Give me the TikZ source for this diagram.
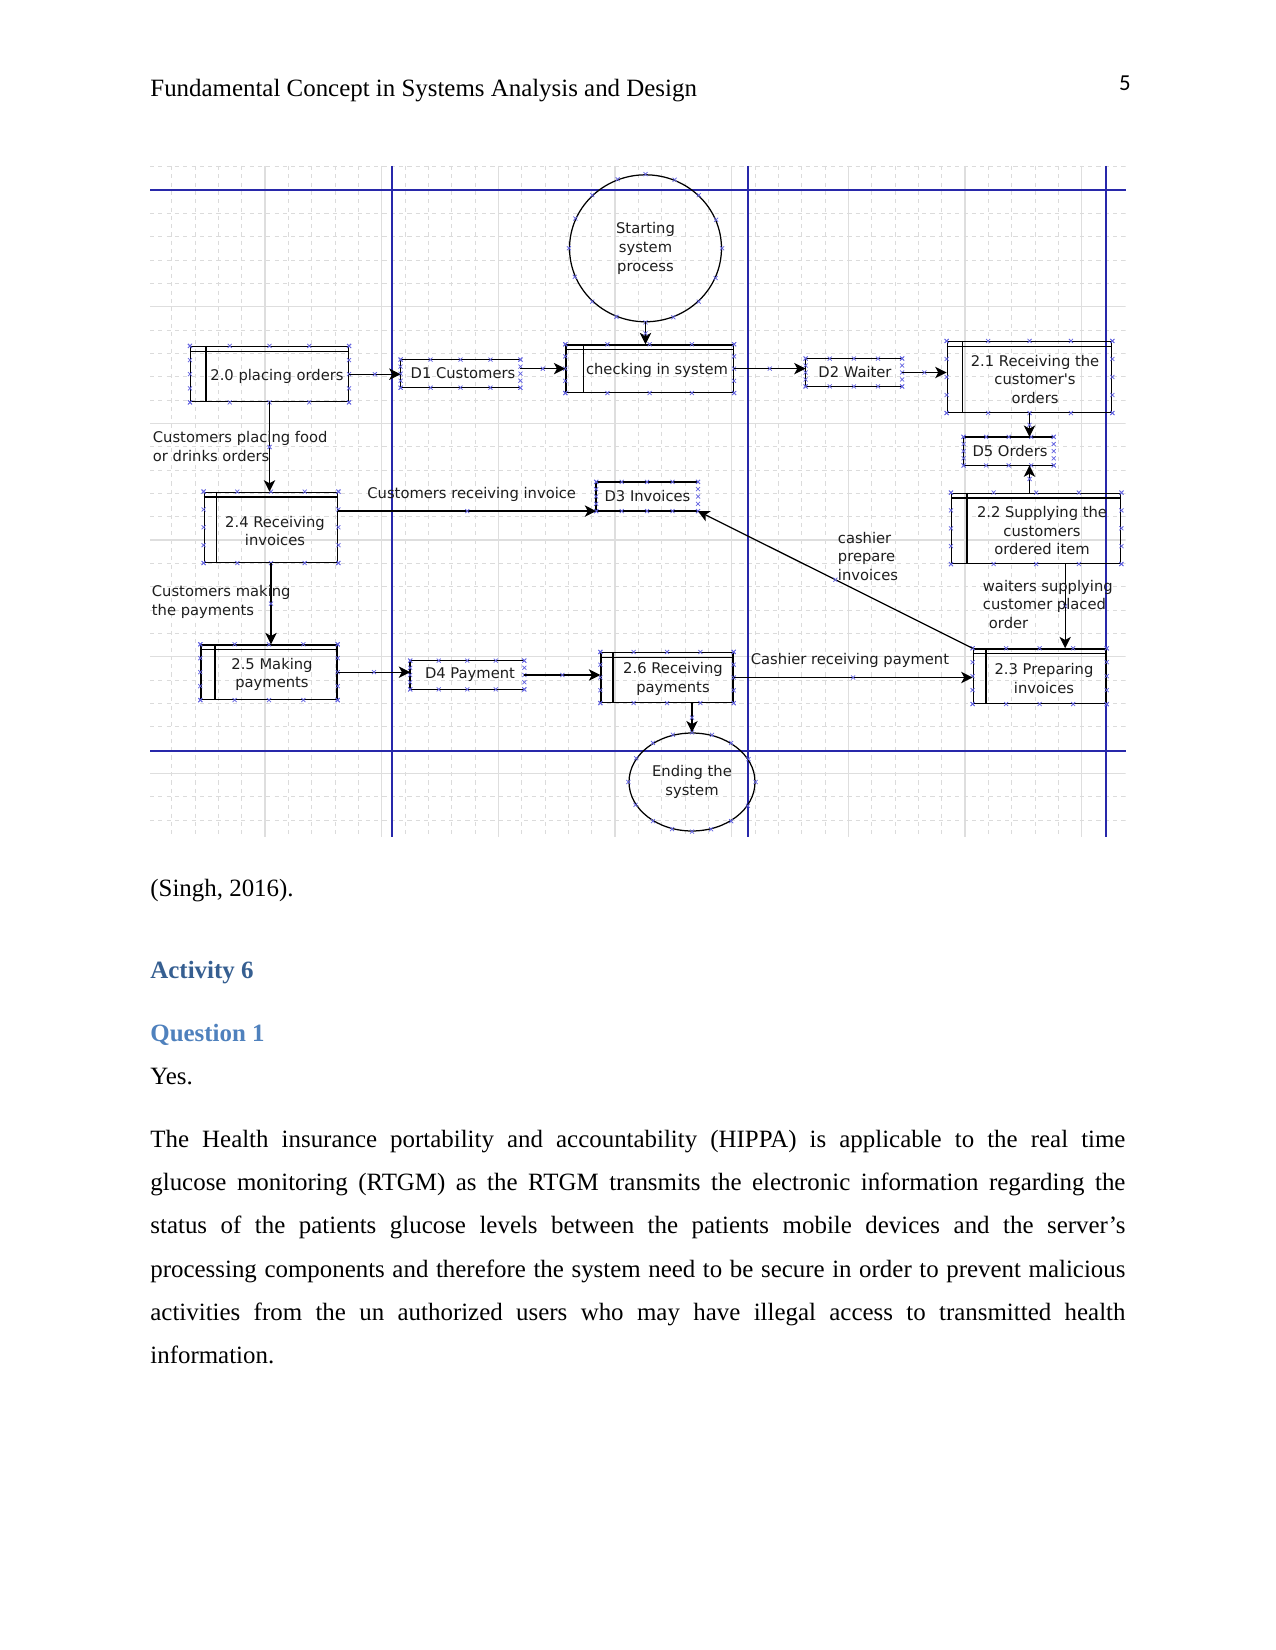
\documentclass[tikz,border=0pt]{standalone}
\usepackage{fontspec}
\setmainfont{Liberation Serif}
\newfontfamily\dvs{DejaVu Sans}
\newfontfamily\carl{Carlito}
\usetikzlibrary{shapes.geometric,fit,calc,arrows.meta,decorations.markings}

\definecolor{lane}{RGB}{40,40,170}
\definecolor{mkc}{RGB}{100,100,225}
\definecolor{hdA}{RGB}{54,95,145}
\definecolor{hdQ}{RGB}{79,129,189}
\definecolor{dtxt}{RGB}{30,30,30}

\newcommand\dgfont{\dvs\fontsize{7.1}{9}\selectfont}

\tikzset{
  mk/.style={draw=mkc, line width=0.35pt, arrows=-},
  xm/.pic={\draw[mk] (-2,-2)--(2,2) (-2,2)--(2,-2);},
  proc/.style={draw, line width=0.7pt, inner sep=0pt, rectangle},
  store/.style={inner sep=0pt, rectangle},
  term/.style={draw, ellipse, line width=0.6pt, inner sep=0pt, align=center, font=\dgfont, text=dtxt},
  dtext/.style={inner sep=0pt, align=center, font=\dgfont, text=dtxt},
  ltext/.style={inner sep=0pt, align=left, font=\dgfont, anchor=west, text=dtxt},
  flow/.style={line width=0.6pt, -{Stealth[length=5.5pt,width=5.5pt,inset=1.5pt]},
    postaction={decorate}, decoration={markings, mark=at position 0.5 with {\pic{xm};}}},
  body/.style={inner sep=0pt, anchor=base west, font=\fontsize{12}{14}\selectfont},
  gmajs/.style={draw=black!13, line width=0.5pt},
  gmins/.style={draw=black!14, line width=0.4pt, dash pattern=on 2pt off 2pt},
  lanes/.style={draw=lane, line width=0.7pt},
}

\newcommand\procdeco[2]{%
  \draw[line width=0.6pt] ($(#1.north west)+(0,5.5)$) -- ($(#1.north east)+(0,5.5)$);
  \draw[line width=0.6pt] ($(#1.north west)+(#2,0)$) -- ($(#1.south west)+(#2,0)$);
}
\newcommand\storedeco[1]{%
  \draw[line width=0.7pt] (#1.north east) -- (#1.north west) -- (#1.south west) -- (#1.south east);
}
\newcommand\boxmarks[1]{%
  \foreach \t in {0,0.25,0.5,0.75,1}{
    \path ($(#1.north west)!\t!(#1.north east)$) pic{xm}
          ($(#1.south west)!\t!(#1.south east)$) pic{xm}
          ($(#1.north west)!\t!(#1.south west)$) pic{xm}
          ($(#1.north east)!\t!(#1.south east)$) pic{xm};
  }
}
\newcommand\ellmarks[1]{%
  \foreach \a in {0,22.5,...,337.5}{\path (#1.\a) pic{xm};}
}

\begin{document}
\begin{tikzpicture}[x=0.4818pt, y=-0.4818pt]
\fill[white] (0,0) rectangle (1275,1650);
\useasboundingbox (0,0) rectangle (1275,1650);

% ---------- page text ----------
\node[body] (hdr) at (150,97) {Fundamental Concept in Systems Analysis and Design};
\node[inner sep=0pt, anchor=base east, font=\carl\fontsize{11}{13}\selectfont] (pg) at (1131,91) {5};

% ---------- grid ----------
\begin{scope}
\clip (150,166) rectangle (1125.5,837);
\foreach \i in {0,...,42}{
  \pgfmathtruncatemacro\m{mod(\i,5)}
  \pgfmathsetmacro\xx{148.33+23.333*\i}
  \ifnum\m=0 \draw[gmajs] (\xx,166) -- (\xx,837); \else \draw[gmins] (\xx,166) -- (\xx,837); \fi
}
\foreach \j in {-1,...,28}{
  \pgfmathtruncatemacro\m{mod(\j+5,5)}
  \pgfmathsetmacro\yy{190+23.333*\j}
  \ifnum\m=0 \draw[gmajs] (150,\yy) -- (1125.5,\yy); \else \draw[gmins] (150,\yy) -- (1125.5,\yy); \fi
}
\end{scope}

% ---------- swimlane lines ----------
\draw[lanes] (150,190) -- (1125.5,190);
\draw[lanes] (150,751) -- (1125.5,751);
\draw[lanes] (392,166) -- (392,837);
\draw[lanes] (748,166) -- (748,837);
\draw[lanes] (1106,166) -- (1106,837);

% ---------- nodes ----------
\node[term, minimum width=73.2pt, minimum height=70.8pt] (start) at (645.5,248.3) {Starting\\system\\process};
\node[term, minimum width=60.7pt, minimum height=47.2pt] (end) at (692,782) {Ending the\\system};

\node[proc, fit={(190.7,346.7)(348.3,401.7)}] (p20) {};
\node[proc, fit={(566,345)(733.3,392.3)}] (chk) {};
\node[proc, fit={(947.3,341.7)(1111.7,412.3)}] (p21) {};
\node[proc, fit={(951.7,493.3)(1120.7,563.3)}] (p22) {};
\node[proc, fit={(204.3,492.3)(337.7,562.3)}] (p24) {};
\node[proc, fit={(201,645)(337,699.3)}] (p25) {};
\node[proc, fit={(601,652.7)(733,702.3)}] (p26) {};
\node[proc, fit={(973.3,649)(1106,703.3)}] (p23) {};

\node[store, fit={(401,360)(520,387.3)}] (d1) {};
\node[store, fit={(806,359)(901.7,386)}] (d2) {};
\node[store, fit={(964,437.3)(1053.3,465)}] (d5) {};
\node[store, fit={(596.6,482.3)(697.6,510.7)}] (d3) {};
\node[store, fit={(410.6,661)(523.9,689)}] (d4) {};

\procdeco{p20}{16}
\procdeco{chk}{18}
\procdeco{p21}{16}
\procdeco{p22}{16}
\procdeco{p24}{13}
\procdeco{p25}{14.8}
\procdeco{p26}{12.8}
\procdeco{p23}{13.4}
\storedeco{d1}
\storedeco{d2}
\storedeco{d5}
\storedeco{d3}
\storedeco{d4}

\foreach \n in {p20,chk,p21,p22,p24,p25,p26,p23,d1,d2,d5,d3,d4}{\boxmarks{\n}}
\ellmarks{start}
\ellmarks{end}

% texts inside boxes
\node[dtext] (t20) at (277,376) {2.0 placing orders};
\node[dtext] (tchk) at (657,370) {checking in system};
\node[dtext] (t21) at (1035,379.5) {2.1 Receiving the\\customer's\\orders};
\node[dtext] (t22) at (1042,530.8) {2.2 Supplying the\\customers\\ordered item};
\node[dtext] (t24) at (275,531) {2.4 Receiving\\invoices};
\node[dtext] (t25) at (272,674.5) {2.5 Making\\payments};
\node[dtext] (t26) at (673,679) {2.6 Receiving\\payments};
\node[dtext] (t23) at (1044,678.3) {2.3 Preparing\\invoices};
\node[dtext] (td1) at (463,373) {D1 Customers};
\node[dtext] (td2) at (855,372.5) {D2 Waiter};
\node[dtext] (td5) at (1010,451.5) {D5 Orders};
\node[dtext] (td3) at (647.5,496) {D3 Invoices};
\node[dtext] (td4) at (470,675) {D4 Payment};

% ---------- connectors ----------
\draw[flow] (start.south) -- (start.south |- chk.north);
\draw[flow] (p20.east) -- (p20.east -| d1.west);
\draw[flow] (d1.east |- chk.west) -- (chk.west);
\draw[flow] (chk.east) -- (chk.east -| d2.west);
\draw[flow] (d2.east) -- (d2.east -| p21.west);
\draw[flow] (p21.south) -- (p21.south |- d5.north);
\draw[flow] (p21.south |- p22.north) -- (p21.south |- d5.south);
\coordinate (p22out) at ($(p22.south west)!0.67!(p22.south east)$);
\draw[flow] (p22out) -- (p22out |- p23.north);
\draw[flow] (p23.north west) -- (d3.south east);
\draw[flow] (p26.east) -- (p26.east -| p23.west);
\draw[flow] (end.north |- p26.south) -- (end.north);
\draw[flow] (p20.south) -- (p20.south |- p24.north);
\draw[flow] (p24.east |- d3.south west) -- (d3.south west);
\draw[flow] (p24.south) -- (p24.south |- p25.north);
\draw[flow] (p25.east) -- (p25.east -| d4.west);
\draw[flow] (d4.east) -- (d4.east -| p26.west);

% ---------- flow labels ----------
\node[ltext] (l1) at (152.5,446.5) {Customers placing food\\or drinks orders};
\node[ltext] (l2) at (367,494.5) {Customers receiving invoice};
\node[ltext] (l3) at (151.5,602) {Customers making\\the payments};
\node[ltext] (l4) at (837.5,556.5) {cashier\\prepare\\invoices};
\node[ltext] (l5) at (982.5,604.5) {waiters supplying\\customer placed\\\hspace*{2.9pt}order};
\node[ltext] (l6) at (750.5,660) {Cashier receiving payment};

% ---------- body text ----------
\node[body] (cite) at (150,896) {(Singh, 2016).};
\node[body, font=\bfseries\fontsize{12}{14}\selectfont, text=hdA] (act) at (150,978) {Activity 6};
\node[body, font=\bfseries\fontsize{12}{14}\selectfont, text=hdQ] (q1) at (150,1041.5) {Question 1};
\node[body] (yes) at (150,1084) {Yes.};
\node[body] (pl1) at (150,1147) {\makebox[469.75pt][s]{The Health insurance portability and accountability (HIPPA) is applicable to the real time}};
\node[body] (pl2) at (150,1190.3) {\makebox[469.75pt][s]{glucose monitoring (RTGM) as the RTGM transmits the electronic information regarding the}};
\node[body] (pl3) at (150,1233.6) {\makebox[469.75pt][s]{status of the patients glucose levels between the patients mobile devices and the server’s}};
\node[body] (pl4) at (150,1277) {\makebox[469.75pt][s]{processing components and therefore the system need to be secure in order to prevent malicious}};
\node[body] (pl5) at (150,1320.3) {\makebox[469.75pt][s]{activities from the un authorized users who may have illegal access to transmitted health}};
\node[body] (pl6) at (150,1363.6) {information.};
\end{tikzpicture}
\end{document}
